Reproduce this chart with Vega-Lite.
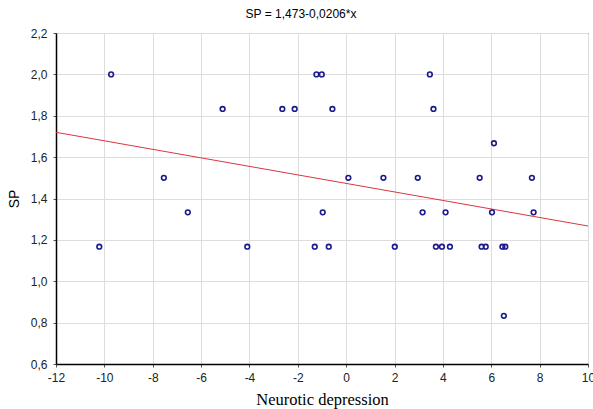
{
  "$schema": "https://vega.github.io/schema/vega-lite/v6.json",
  "width": 532,
  "height": 331,
  "autosize": {"type": "none"},
  "padding": {"left": 56, "top": 33, "right": 5, "bottom": 45},
  "background": "white",
  "title": {
    "text": "SP = 1,473-0,0206*x",
    "font": "Liberation Sans",
    "fontSize": 12,
    "fontWeight": "normal",
    "color": "#000000",
    "anchor": "middle",
    "dx": -21,
    "offset": 6
  },
  "datasets": {
    "pts": [
      {"x": -10.21, "y": 1.167}, {"x": -9.72, "y": 2.0}, {"x": -7.54, "y": 1.5},
      {"x": -6.55, "y": 1.333}, {"x": -5.11, "y": 1.833}, {"x": -4.09, "y": 1.167},
      {"x": -2.64, "y": 1.833}, {"x": -2.13, "y": 1.833}, {"x": -1.30, "y": 1.167},
      {"x": -1.23, "y": 2.0}, {"x": -1.01, "y": 2.0}, {"x": -0.97, "y": 1.333},
      {"x": -0.72, "y": 1.167}, {"x": -0.57, "y": 1.833}, {"x": 0.09, "y": 1.5},
      {"x": 1.54, "y": 1.5}, {"x": 2.01, "y": 1.167}, {"x": 2.96, "y": 1.5},
      {"x": 3.16, "y": 1.333}, {"x": 3.46, "y": 2.0}, {"x": 3.61, "y": 1.833},
      {"x": 3.71, "y": 1.167}, {"x": 3.96, "y": 1.167}, {"x": 4.11, "y": 1.333},
      {"x": 4.29, "y": 1.167}, {"x": 5.52, "y": 1.5}, {"x": 5.60, "y": 1.167},
      {"x": 5.77, "y": 1.167}, {"x": 6.03, "y": 1.333}, {"x": 6.11, "y": 1.667},
      {"x": 6.46, "y": 1.167}, {"x": 6.58, "y": 1.167}, {"x": 6.52, "y": 0.833},
      {"x": 7.68, "y": 1.5}, {"x": 7.75, "y": 1.333}
    ],
    "fit": [
      {"x": -12, "y": 1.72},
      {"x": 10, "y": 1.267}
    ]
  },
  "layer": [
    {
      "data": {"name": "fit"},
      "mark": {"type": "line", "color": "#d9373f", "strokeWidth": 1, "clip": true},
      "encoding": {
        "x": {"field": "x", "type": "quantitative"},
        "y": {"field": "y", "type": "quantitative"}
      }
    },
    {
      "data": {"name": "pts"},
      "mark": {"type": "point", "shape": "circle", "filled": false, "color": "#1c1a8a", "strokeWidth": 1.6, "size": 22, "opacity": 1},
      "encoding": {
        "x": {"field": "x", "type": "quantitative"},
        "y": {"field": "y", "type": "quantitative"}
      }
    }
  ],
  "encoding": {
    "x": {
      "field": "x",
      "type": "quantitative",
      "scale": {"domain": [-12, 10], "nice": false, "zero": false},
      "axis": {
        "title": "Neurotic depression",
        "values": [-12, -10, -8, -6, -4, -2, 0, 2, 4, 6, 8, 10],
        "format": "d",
        "titleFont": "Liberation Serif",
        "titleFontSize": 16.5,
        "titleFontWeight": "normal",
        "titleColor": "#000000",
        "titlePadding": 8,
        "labelFont": "Liberation Sans",
        "labelFontSize": 12,
        "labelColor": "#222222",
        "labelPadding": 5,
        "domainColor": "#000000",
        "domainWidth": 1.5,
        "ticks": true,
        "tickSize": 3,
        "tickColor": "#555555",
        "gridColor": "#dddddd",
        "labelFlush": false
      }
    },
    "y": {
      "field": "y",
      "type": "quantitative",
      "scale": {"domain": [0.6, 2.2], "nice": false, "zero": false},
      "axis": {
        "title": "SP",
        "values": [0.6, 0.8, 1.0, 1.2, 1.4, 1.6, 1.8, 2.0, 2.2],
        "format": ".1f",
        "titleFont": "Liberation Sans",
        "titleFontSize": 14,
        "titleFontWeight": "normal",
        "titleColor": "#000000",
        "titlePadding": 9,
        "labelFont": "Liberation Sans",
        "labelFontSize": 12,
        "labelColor": "#222222",
        "labelPadding": 6,
        "domainColor": "#000000",
        "domainWidth": 1.5,
        "ticks": true,
        "tickSize": 3,
        "tickColor": "#555555",
        "gridColor": "#dddddd",
        "labelFlush": false
      }
    }
  },
  "config": {
    "locale": {
      "number": {"decimal": ",", "thousands": ".", "grouping": [3], "currency": ["", ""], "minus": "-"}
    },
    "view": {"stroke": "#333333", "strokeWidth": 1}
  }
}
